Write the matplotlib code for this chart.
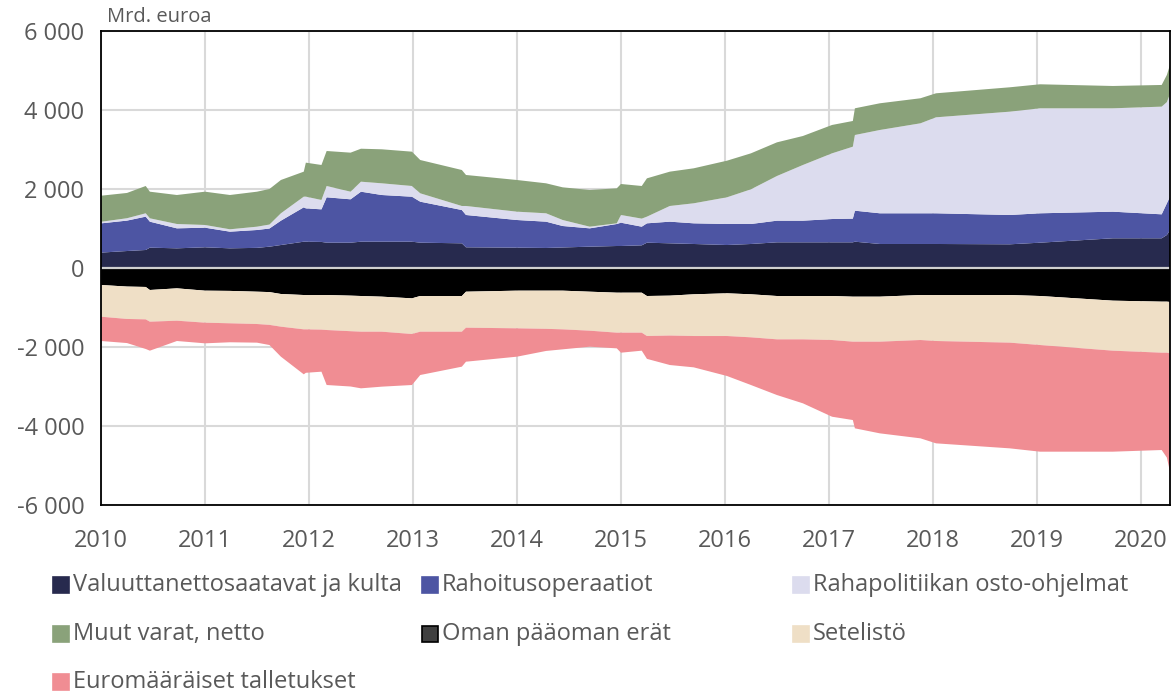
import matplotlib
matplotlib.use("Agg")
import matplotlib.pyplot as plt
from matplotlib.patches import Rectangle
import numpy as np

plt.rcParams['font.family'] = ['Open Sans', 'DejaVu Sans']

# Decimal years of the readings
dates = [2010.00, 2010.25, 2010.43, 2010.47, 2010.73, 2011.00, 2011.24, 2011.50,
         2011.62, 2011.73, 2011.95, 2011.97, 2012.12, 2012.17, 2012.40, 2012.50,
         2012.70, 2012.99, 2013.07, 2013.47, 2013.51, 2014.00, 2014.28, 2014.44,
         2014.70, 2014.96, 2015.00, 2015.20, 2015.25, 2015.47, 2015.70, 2016.02,
         2016.25, 2016.50, 2016.75, 2017.03, 2017.23, 2017.25, 2017.49, 2017.88,
         2018.03, 2018.74, 2019.03, 2019.73, 2020.20, 2020.25, 2020.28]

# Assets (mrd. euroa)
valuutta = [390, 430, 456, 515, 498, 524, 498, 510, 540, 582, 666, 666, 660, 641, 641, 666,
            666, 666, 641, 625, 524, 515, 507, 520, 540, 557, 557, 574, 641, 625, 608, 582,
            608, 650, 650, 650, 650, 666, 608, 608, 608, 600, 641, 752, 752, 836, 962]
rahoitus = [740, 770, 844, 658, 506, 497, 422, 452, 460, 616, 870, 844, 825, 1149, 1098, 1266,
            1182, 1139, 1038, 843, 818, 700, 666, 543, 464, 557, 590, 472, 490, 548, 523, 532,
            506, 548, 548, 590, 600, 785, 777, 777, 777, 742, 744, 674, 607, 802, 843]
osto = [40, 60, 85, 85, 110, 68, 60, 84, 100, 187, 270, 296, 237, 286, 193, 253,
        296, 271, 212, 102, 228, 211, 212, 152, 42, 17, 195, 204, 169, 397, 507, 676,
        878, 1131, 1410, 1663, 1821, 1916, 2109, 2278, 2430, 2616, 2658, 2617, 2726, 2562, 2600]
muut = [660, 640, 691, 674, 734, 843, 868, 886, 900, 843, 633, 861, 886, 886, 988, 835,
        861, 869, 843, 911, 785, 802, 759, 827, 929, 886, 785, 826, 970, 869, 886, 927,
        911, 852, 734, 718, 651, 676, 676, 634, 608, 617, 608, 565, 549, 687, 735]

# Liabilities (mrd. euroa, shown below zero)
oman = [430, 470, 480, 557, 515, 574, 580, 600, 610, 658, 684, 684, 684, 684, 700, 709,
        726, 768, 709, 709, 600, 574, 574, 574, 600, 625, 625, 625, 709, 700, 666, 641,
        666, 709, 709, 709, 726, 726, 726, 684, 684, 684, 709, 827, 852, 852, 860]
setelisto = [803, 820, 820, 802, 819, 810, 820, 818, 830, 827, 869, 869, 876, 886, 900, 903,
             886, 903, 903, 903, 911, 953, 966, 979, 987, 1012, 1012, 1012, 1013, 1010, 1056, 1081,
             1089, 1097, 1097, 1114, 1139, 1139, 1139, 1139, 1164, 1206, 1241, 1266, 1292, 1292, 1300]
talletukset = [615, 610, 750, 734, 514, 523, 480, 472, 510, 760, 1139, 1100, 1065, 1392, 1400, 1434,
               1392, 1291, 1097, 886, 861, 718, 560, 506, 405, 397, 507, 456, 578, 746, 793, 1012,
               1207, 1410, 1620, 1942, 1984, 2194, 2321, 2489, 2591, 2676, 2700, 2557, 2464, 2656, 2997]

labels = ["Valuuttanettosaatavat ja kulta", "Rahoitusoperaatiot", "Rahapolitiikan osto-ohjelmat",
          "Muut varat, netto", "Oman pääoman erät", "Setelistö", "Euromääräiset talletukset"]
colors = ["#272A4E", "#4D55A3", "#DCDCEE", "#8AA27A", "#000000", "#EFDFC6", "#F08D93"]

yticks = [-6000, -4000, -2000, 0, 2000, 4000, 6000]
xticks = list(range(2010, 2021))

gray = "#595959"

fig = plt.figure(figsize=(11.73, 6.94), dpi=100)
ax = fig.add_axes([101/1173, 1-505/694, (1170-101)/1173, (505-31)/694])

ax.stackplot(dates, valuutta, rahoitus, osto, muut, colors=colors[:4], linewidth=0, zorder=2)
ax.stackplot(dates, -np.array(oman), -np.array(setelisto), -np.array(talletukset),
             colors=colors[4:], linewidth=0, zorder=2)
ax.axhline(0, color="#D0D0D0", lw=1.6, zorder=3)

ax.set_xlim(2010, 2020.28)
ax.set_ylim(-6000, 6000)
ax.set_yticks(yticks)
ax.set_yticklabels([f"{v:,}".replace(",", " ") for v in yticks])
ax.set_xticks(xticks)
ax.set_xticklabels([str(x) for x in xticks])
ax.tick_params(length=0, labelsize=17, colors=gray)
ax.tick_params(axis='y', pad=12)
ax.tick_params(axis='x', pad=17)
ax.grid(True, color="#D9D9D9", lw=1.5, zorder=0)
ax.set_axisbelow(True)
for s in ax.spines.values():
    s.set_color("black")
    s.set_linewidth(1.3)
    s.set_zorder(4)

fig.text(107/1173, 1-17/694, "Mrd. euroa", fontsize=14.5, color=gray, va="center", ha="left")

# legend, row-wise like the original
col_x = [53, 422, 793]
row_y = [585, 634, 682]
sq = 16
for i, (lab, c) in enumerate(zip(labels, colors)):
    r, k = divmod(i, 3)
    x0 = col_x[k]
    yc = row_y[r]
    is_black = c == "#000000"
    rect = Rectangle((x0/1173, 1-(yc+sq/2)/694), sq/1173, sq/694, transform=fig.transFigure,
                     facecolor="#404040" if is_black else c,
                     edgecolor="black" if is_black else c, lw=1.2)
    fig.patches.append(rect)
    fig.text((x0+sq+4)/1173, 1-yc/694, lab, fontsize=17, color=gray, va="center", ha="left")

fig.savefig("out.png", dpi=100)
